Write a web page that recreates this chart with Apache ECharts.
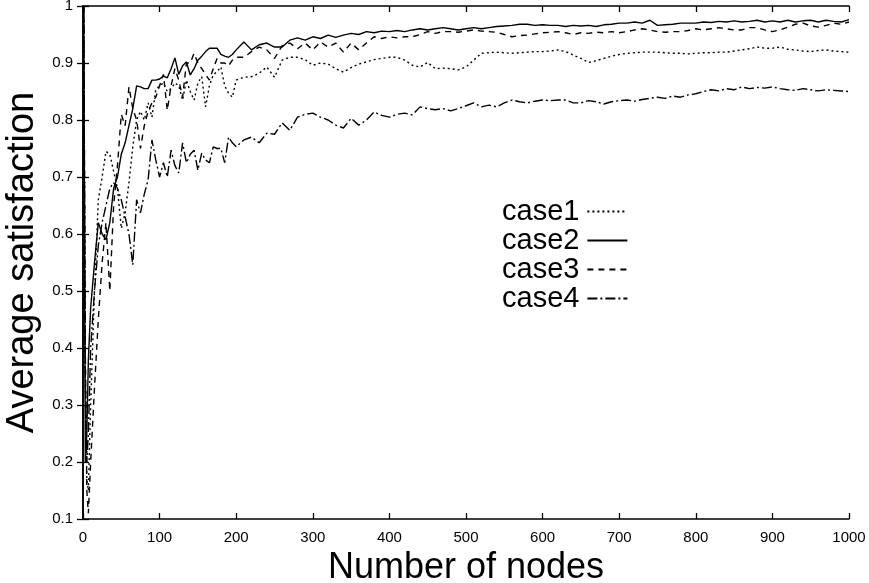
<!DOCTYPE html>
<html><head><meta charset="utf-8">
<script src="https://cdn.jsdelivr.net/npm/echarts@6/dist/echarts.min.js"></script>
<style>html,body{margin:0;padding:0;background:#fff}#c{width:869px;height:583px}</style>
</head><body><div id="c"></div>
<script>
const nodes = [1,3,5,7,10,15,20,25,30,35,40,45,50,55,60,65,70,75,80,85,90,95,100,105,110,115,120,125,130,135,140,145,150,155,160,165,170,175,180,185,190,195,200,
210,220,230,240,250,260,270,280,290,300,310,320,330,340,350,360,370,380,390,400,410,420,430,440,450,460,470,480,490,500,
510,520,530,540,550,560,570,580,590,600,610,620,630,640,650,660,670,680,690,700,710,720,730,740,750,760,770,780,790,800,
810,820,830,840,850,860,870,880,890,900,910,920,930,940,950,960,970,980,990,1000];

const case1 = [1.0,0.35,0.17,0.15,0.3,0.5,0.66,0.7,0.745,0.74,0.71,0.68,0.61,0.637,0.69,0.753,0.8,0.815,0.8,0.83,0.805,0.853,0.86,0.865,0.85,0.855,0.865,0.86,0.835,0.87,0.85,0.835,0.865,0.876,0.823,0.86,0.879,0.885,0.893,0.86,0.847,0.84,0.87,
0.875,0.876,0.882,0.893,0.875,0.905,0.91,0.91,0.906,0.896,0.9,0.898,0.89,0.884,0.892,0.898,0.902,0.906,0.908,0.91,0.91,0.905,0.896,0.893,0.901,0.89,0.891,0.89,0.888,0.893,
0.905,0.917,0.918,0.919,0.918,0.917,0.918,0.919,0.92,0.92,0.921,0.923,0.92,0.914,0.908,0.901,0.904,0.908,0.912,0.915,0.917,0.918,0.919,0.919,0.919,0.918,0.917,0.917,0.916,0.917,
0.918,0.918,0.919,0.919,0.921,0.923,0.925,0.928,0.926,0.926,0.928,0.924,0.923,0.921,0.92,0.922,0.923,0.921,0.92,0.919];

const case2 = [1.0,0.2,0.25,0.38,0.47,0.55,0.62,0.6,0.59,0.62,0.68,0.7,0.74,0.76,0.79,0.82,0.86,0.858,0.855,0.855,0.87,0.87,0.872,0.877,0.874,0.89,0.909,0.88,0.895,0.902,0.879,0.89,0.905,0.912,0.92,0.926,0.926,0.926,0.915,0.912,0.91,0.915,0.923,
0.937,0.923,0.932,0.935,0.928,0.928,0.94,0.944,0.94,0.946,0.943,0.949,0.945,0.949,0.952,0.95,0.955,0.953,0.956,0.955,0.957,0.955,0.958,0.96,0.958,0.96,0.962,0.96,0.958,0.96,
0.962,0.96,0.962,0.964,0.965,0.966,0.968,0.968,0.966,0.967,0.966,0.966,0.964,0.966,0.965,0.966,0.964,0.967,0.968,0.97,0.97,0.972,0.97,0.975,0.966,0.967,0.968,0.97,0.97,0.97,
0.972,0.971,0.973,0.972,0.974,0.972,0.973,0.975,0.972,0.974,0.972,0.975,0.972,0.974,0.975,0.972,0.975,0.973,0.972,0.976];

const case3 = [1.0,0.4,0.15,0.11,0.2,0.33,0.45,0.55,0.62,0.5,0.65,0.72,0.81,0.79,0.858,0.82,0.8,0.75,0.79,0.815,0.83,0.84,0.86,0.88,0.817,0.86,0.89,0.87,0.84,0.9,0.9,0.917,0.9,0.89,0.88,0.87,0.89,0.908,0.9,0.9,0.895,0.905,0.91,
0.91,0.92,0.928,0.923,0.908,0.93,0.935,0.925,0.935,0.923,0.937,0.928,0.935,0.919,0.935,0.923,0.935,0.946,0.943,0.946,0.944,0.946,0.946,0.95,0.955,0.952,0.955,0.955,0.954,0.956,
0.958,0.956,0.955,0.954,0.95,0.946,0.948,0.949,0.951,0.953,0.954,0.955,0.953,0.95,0.953,0.952,0.954,0.953,0.955,0.953,0.955,0.958,0.96,0.958,0.955,0.954,0.955,0.955,0.957,0.96,
0.958,0.96,0.962,0.96,0.958,0.958,0.962,0.962,0.958,0.955,0.958,0.963,0.968,0.97,0.965,0.963,0.966,0.97,0.968,0.972];

const case4 = [1.0,0.35,0.2,0.25,0.4,0.5,0.58,0.62,0.65,0.68,0.69,0.68,0.66,0.63,0.6,0.546,0.66,0.637,0.67,0.695,0.765,0.73,0.7,0.725,0.7,0.747,0.72,0.707,0.76,0.725,0.74,0.747,0.712,0.742,0.73,0.725,0.753,0.75,0.75,0.725,0.77,0.76,0.753,
0.765,0.77,0.76,0.777,0.775,0.795,0.782,0.805,0.81,0.812,0.805,0.8,0.791,0.786,0.803,0.791,0.8,0.814,0.808,0.805,0.81,0.812,0.809,0.823,0.82,0.818,0.82,0.816,0.82,0.825,
0.83,0.823,0.826,0.823,0.83,0.835,0.832,0.83,0.833,0.835,0.834,0.835,0.835,0.83,0.83,0.834,0.832,0.828,0.832,0.834,0.835,0.833,0.836,0.838,0.84,0.838,0.842,0.84,0.844,0.846,
0.85,0.853,0.851,0.855,0.853,0.858,0.855,0.857,0.856,0.858,0.855,0.853,0.852,0.855,0.853,0.851,0.853,0.852,0.851,0.85];

const seriesNames = ['case1','case2','case3','case4'];
const seriesValues = [case1, case2, case3, case4];
const dashTypes = [[2,3],'solid',[6,5],[10,3,2,3]];
const xTicks = [0,100,200,300,400,500,600,700,800,900,1000];
const yTicks = [0.1,0.2,0.3,0.4,0.5,0.6,0.7,0.8,0.9,1];

const font = 'Liberation Sans, Arial, sans-serif';
const chart = echarts.init(document.getElementById('c'));
const axisLine = {show:true, lineStyle:{color:'#000', width:1.6}};
const tick = {show:true, inside:true, length:6, lineStyle:{color:'#000', width:1.3}};
chart.setOption({
  animation:false,
  backgroundColor:'#fff',
  grid:{left:83, right:20, top:6, bottom:64, containLabel:false, outerBoundsMode:'none'},
  legend:{
    orient:'vertical', left:497, top:192, align:'right', itemGap:0,
    itemWidth:40, itemHeight:29,
    itemStyle:{opacity:0},
    textStyle:{fontFamily:font, fontSize:29, color:'#000', padding:[0,3,0,0]},
    data:seriesNames
  },
  xAxis:[{
    type:'value', min:0, max:1000, interval:100, position:'bottom',
    name:'Number of nodes', nameLocation:'middle', nameGap:27,
    nameTextStyle:{fontFamily:font, fontSize:36, color:'#000'},
    axisLine:axisLine, axisTick:tick, splitLine:{show:false},
    axisLabel:{fontFamily:font, fontSize:15, color:'#000', margin:11, formatter:v=>String(v)}
  },{
    type:'value', min:0, max:1000, interval:100, position:'top',
    axisLine:axisLine, axisTick:tick, splitLine:{show:false}, axisLabel:{show:false}
  }],
  yAxis:[{
    type:'value', min:0.1, max:1, interval:0.1, position:'left',
    name:'Average satisfaction', nameLocation:'middle', nameGap:35, nameRotate:90,
    nameTextStyle:{fontFamily:font, fontSize:38, color:'#000'},
    axisLine:axisLine, axisTick:tick, splitLine:{show:false},
    axisLabel:{fontFamily:font, fontSize:15, color:'#000', margin:10,
      formatter:v=>{const r=Math.round(v*10)/10; return r===1?'1':String(r);}}
  },{
    type:'value', min:0.1, max:1, interval:0.1, position:'right',
    axisLine:axisLine, axisTick:tick, splitLine:{show:false}, axisLabel:{show:false}
  }],
  series: seriesNames.map((n,i)=>({
    name:n, type:'line', xAxisIndex:0, yAxisIndex:0,
    showSymbol:false, symbol:'none', symbolSize:0,
    data: nodes.map((x,j)=>[x, seriesValues[i][j]]),
    lineStyle:{color:'#000', width:1.4, type:dashTypes[i]},
    itemStyle:{color:'#000'}
  }))
});
</script></body></html>
